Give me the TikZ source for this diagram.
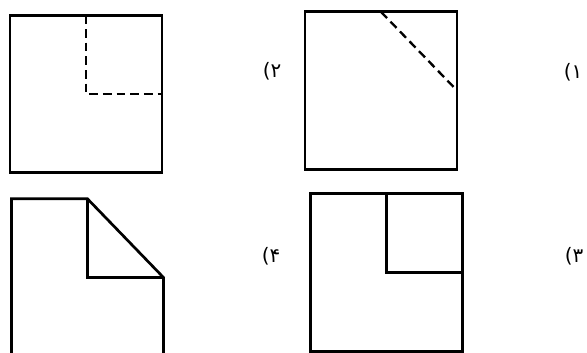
\documentclass[tikz,border=0pt]{standalone}
\usepackage{fontspec}
\newfontfamily\arabicfont[Script=Arabic]{DejaVu Sans}
\TeXXeTstate=1
\usepackage{tikz}
\usetikzlibrary{positioning}

\begin{document}
\begin{tikzpicture}[x=0.03cm, y=-0.03cm,
  sq/.style={inner sep=0pt, outer sep=0pt, minimum width=4.56cm, minimum height=4.72cm},
  edge/.style={line width=2.3pt, line join=miter},
  fold/.style={line width=2pt, dash pattern=on 0.26cm off 0.15cm},
  lbl/.style={font=\arabicfont\fontsize{17}{20}\selectfont, inner sep=0pt}]
\useasboundingbox (0,0) rectangle (587,352);
\clip (0,0) rectangle (587,352);
% top row
\node[sq, draw, edge] (s2) at (86,94) {};
\draw[fold] (s2.north) -- (s2.center) -- (s2.east);
\node[lbl] (lbl2) at (272,71) {\beginR ۲)\endR};
\node[sq, draw, edge] (s1) at (381,90.5) {};
\draw[fold] (s1.north) -- (s1.east);
\node[lbl] (lbl1) at (573,72) {\beginR ۱)\endR};
% bottom row
\node[sq] (s4) at (87.5,277.5) {};
\draw[edge] (s4.south west) -- (s4.north west) -- (s4.north) -- (s4.east) -- (s4.south east) -- cycle;
\draw[edge] (s4.north) -- (s4.center) -- (s4.east);
\node[lbl] (lbl4) at (271,256) {\beginR ۴)\endR};
\node[sq, draw, edge] (s3) at (386.5,272.5) {};
\draw[edge] (s3.north) -- (s3.center) -- (s3.east);
\node[lbl] (lbl3) at (574,256) {\beginR ۳)\endR};
\end{tikzpicture}
\end{document}
